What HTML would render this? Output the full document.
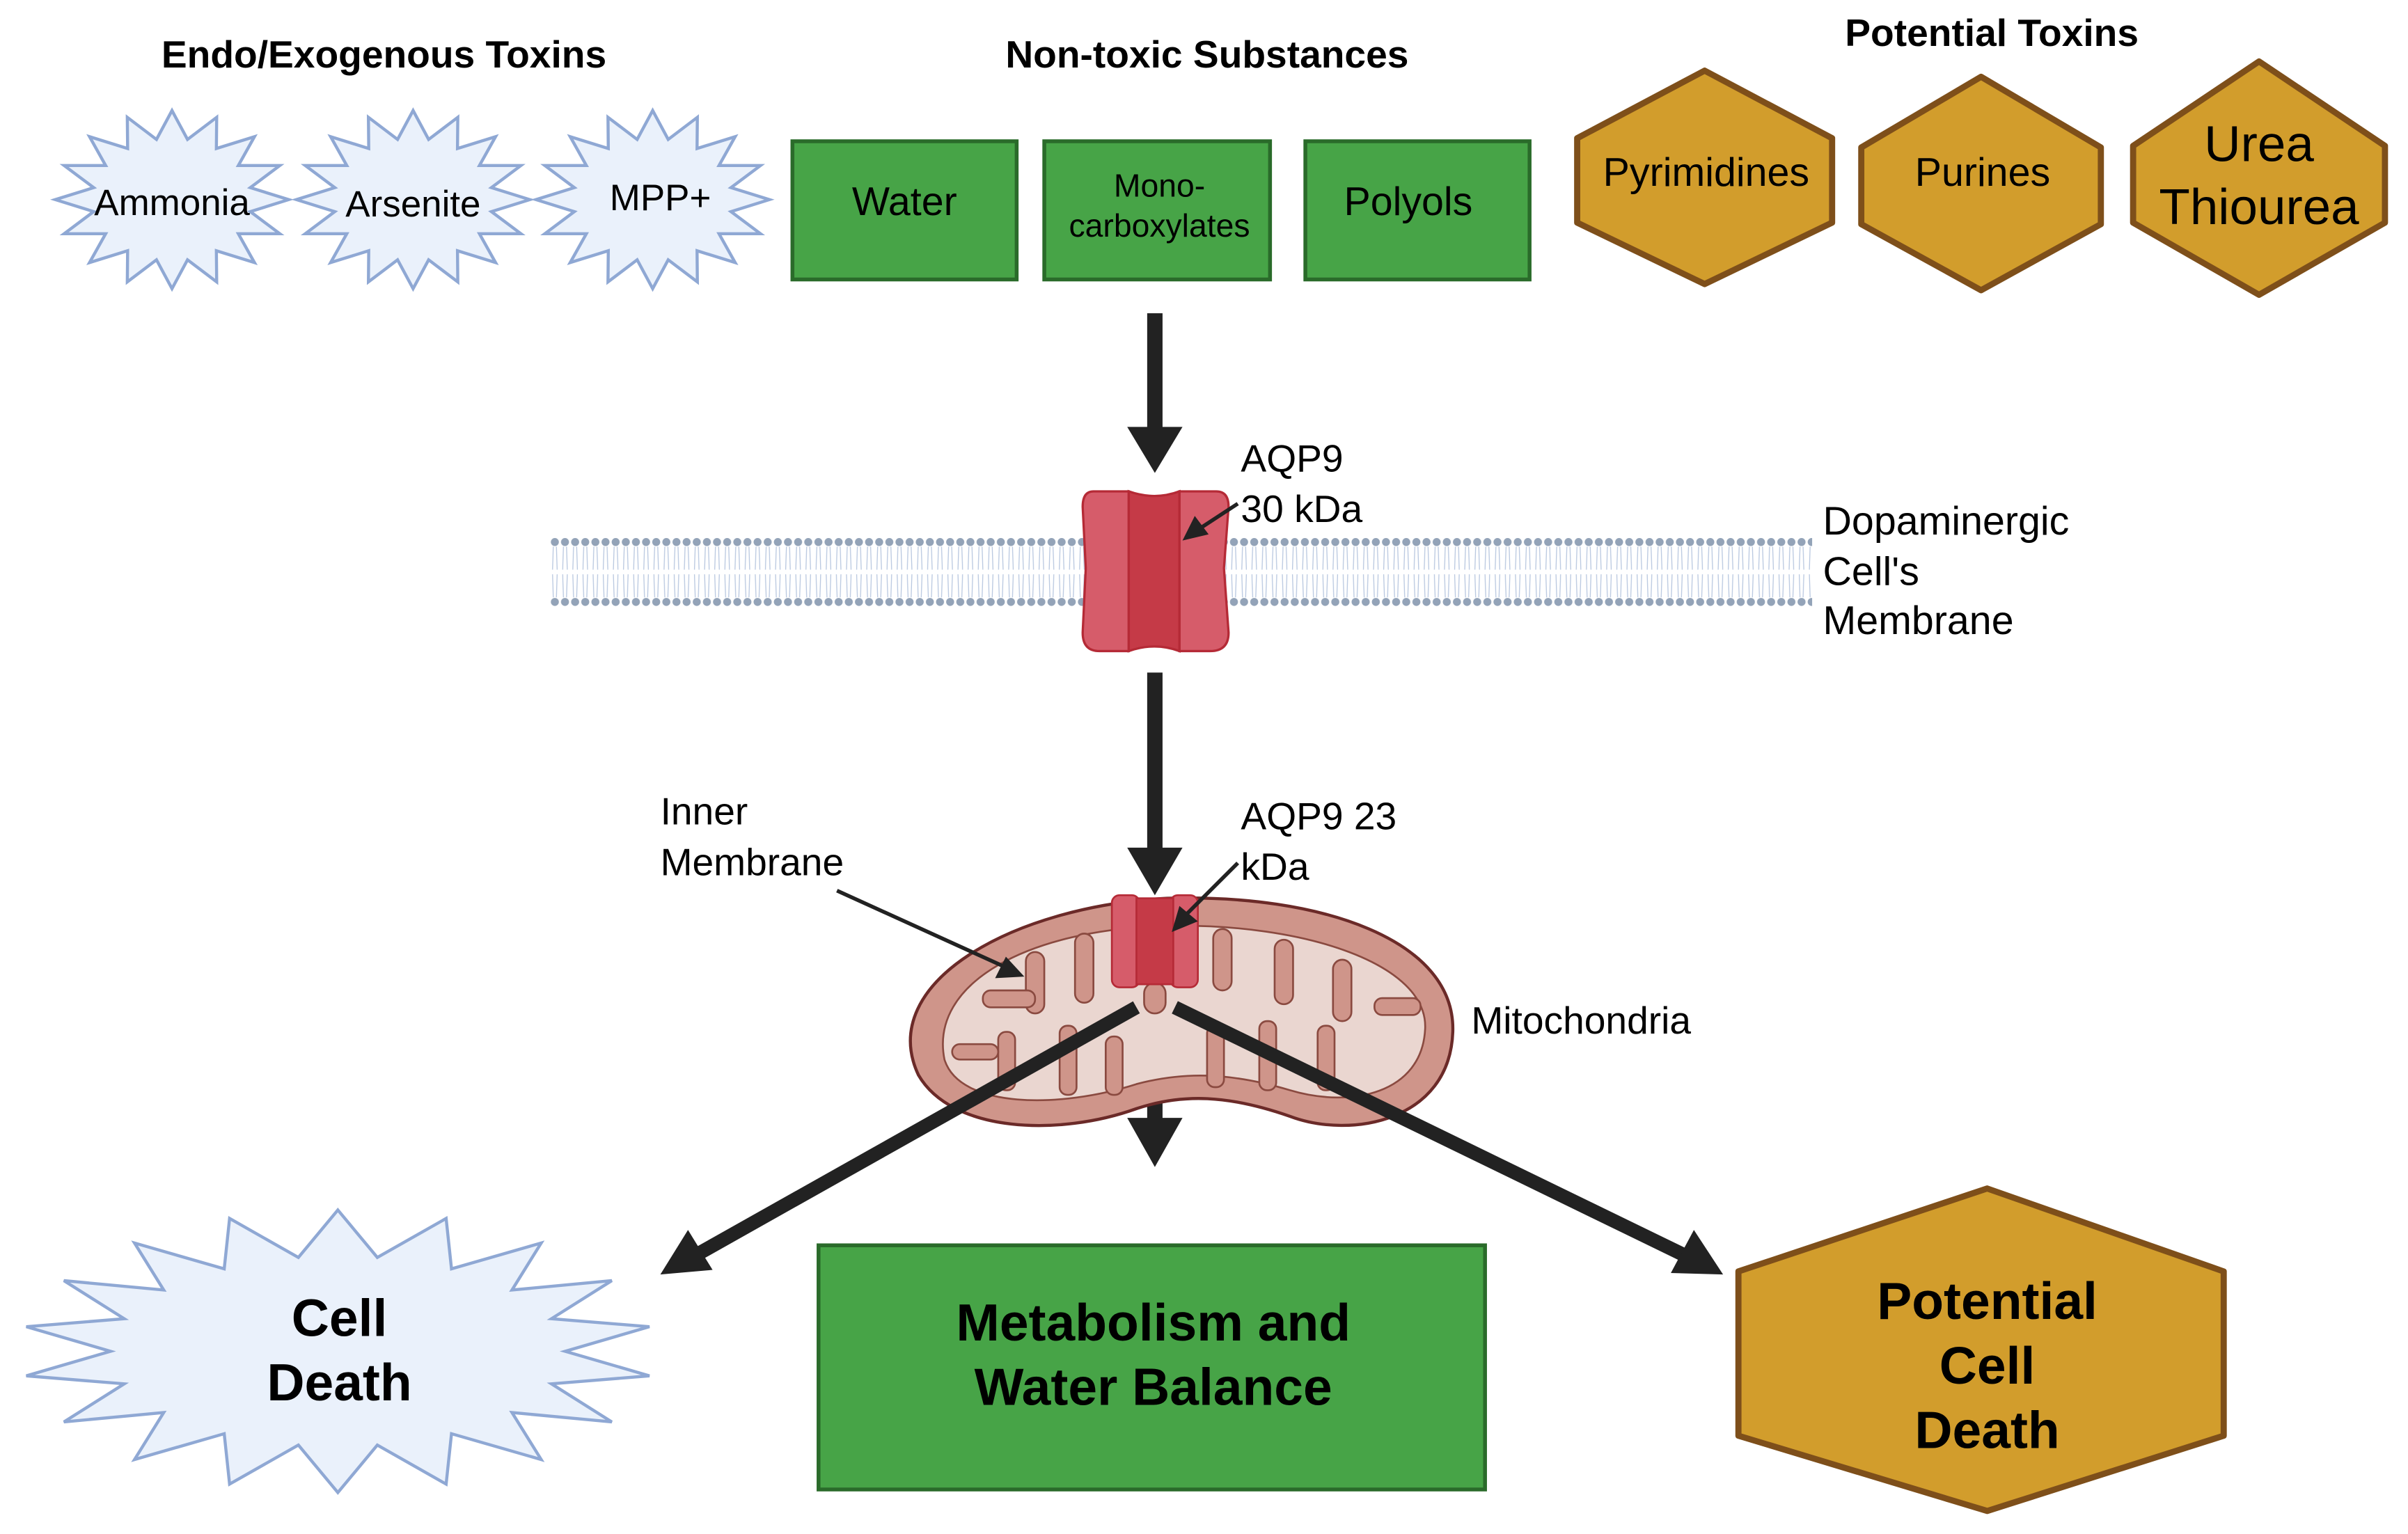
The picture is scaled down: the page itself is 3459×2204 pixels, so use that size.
<!DOCTYPE html>
<html><head><meta charset="utf-8"><style>
html,body{margin:0;padding:0;background:#fff;}
svg{display:block;}
text{font-family:"Liberation Sans",sans-serif;}
</style></head><body>
<svg width="3459" height="2204" viewBox="0 0 1568 999" preserveAspectRatio="none" xmlns="http://www.w3.org/2000/svg">
<defs>
<pattern id="lip" x="358" y="0" width="6.6" height="999" patternUnits="userSpaceOnUse">
<circle cx="3.3" cy="353" r="2.6" fill="#93a3b8"/>
<circle cx="3.3" cy="392" r="2.6" fill="#93a3b8"/>
<path d="M2.3,356 L1.8,371 M4.3,356 L4.8,371 M2.3,389 L1.8,374 M4.3,389 L4.8,374" stroke="#b9c8e0" stroke-width="0.6"/>
</pattern>
</defs>
<rect width="1568" height="999" fill="#fff"/>

<text x="250" y="44" font-size="25" font-weight="bold" text-anchor="middle">Endo/Exogenous Toxins</text>
<text x="786" y="44" font-size="25" font-weight="bold" text-anchor="middle">Non-toxic Substances</text>
<text x="1297" y="30" font-size="25" font-weight="bold" text-anchor="middle">Potential Toxins</text>

<g id="stars" fill="#eaf1fb" stroke="#8fa8d4" stroke-width="2"></g>
<text x="112" y="140" font-size="24" text-anchor="middle">Ammonia</text>
<text x="269" y="141" font-size="24" text-anchor="middle">Arsenite</text>
<text x="430" y="137" font-size="24" text-anchor="middle">MPP+</text>

<g fill="#47a447" stroke="#2a6b2a" stroke-width="2.5">
<rect x="516" y="92" width="146" height="90"/>
<rect x="680" y="92" width="147" height="90"/>
<rect x="850" y="92" width="146" height="90"/>
<rect x="533" y="811" width="434" height="159"/>
</g>
<text x="589" y="140" font-size="26" text-anchor="middle">Water</text>
<text x="755" y="128" font-size="21" text-anchor="middle">Mono-</text>
<text x="755" y="154" font-size="21" text-anchor="middle">carboxylates</text>
<text x="917" y="140" font-size="26" text-anchor="middle">Polyols</text>
<text x="751" y="873" font-size="34" font-weight="bold" text-anchor="middle">Metabolism and</text>
<text x="751" y="915" font-size="34" font-weight="bold" text-anchor="middle">Water Balance</text>

<g fill="#d29d2c" stroke="#7e4f1a" stroke-width="4" stroke-linejoin="round">
<path d="M1110,46 L1193,90 L1193,145 L1110,185 L1027,145 L1027,90 Z"/>
<path d="M1290,50 L1368,96 L1368,146 L1290,189 L1212,146 L1212,96 Z"/>
<path d="M1471,40 L1553,95 L1553,145 L1471,192 L1389,145 L1389,95 Z"/>
<path d="M1294,774 L1448,828 L1448,935 L1294,984 L1132,935 L1132,828 Z"/>
</g>
<text x="1111" y="121" font-size="26" text-anchor="middle">Pyrimidines</text>
<text x="1291" y="121" font-size="26" text-anchor="middle">Purines</text>
<text x="1471" y="105" font-size="33" text-anchor="middle">Urea</text>
<text x="1471" y="146" font-size="33" text-anchor="middle">Thiourea</text>
<text x="1294" y="859" font-size="34" font-weight="bold" text-anchor="middle">Potential</text>
<text x="1294" y="901" font-size="34" font-weight="bold" text-anchor="middle">Cell</text>
<text x="1294" y="943" font-size="34" font-weight="bold" text-anchor="middle">Death</text>

<g id="bigstar" fill="#eaf1fb" stroke="#8fa8d4" stroke-width="2"></g>
<text x="221" y="870" font-size="34" font-weight="bold" text-anchor="middle">Cell</text>
<text x="221" y="912" font-size="34" font-weight="bold" text-anchor="middle">Death</text>

<rect x="358" y="348" width="822" height="48" fill="url(#lip)"/>
<text x="1187" y="348" font-size="26">Dopaminergic</text>
<text x="1187" y="381" font-size="26">Cell's</text>
<text x="1187" y="413" font-size="26">Membrane</text>

<g fill="#222" stroke="none">
<rect x="747" y="204" width="10" height="76"/>
<path d="M734,278 L770,278 L752,308 Z"/>
<rect x="747" y="438" width="10" height="118"/>
<path d="M734,552 L770,552 L752,583 Z"/>
<rect x="747" y="660" width="10" height="72"/>
<path d="M734,728 L770,728 L752,760 Z"/>
</g>

<g stroke="#b52a36" stroke-width="1.5">
<path d="M712,320 Q705,320 705,330 L707,370 L705,412 Q705,424 716,424 L735,424 L735,320 Z" fill="#d65c6a"/>
<path d="M792,320 Q800,320 800,330 L797,370 L800,412 Q800,424 788,424 L768,424 L768,320 Z" fill="#d65c6a"/>
<path d="M735,320 Q752,326 768,320 L768,424 Q752,418 735,424 Z" fill="#c53a47"/>
</g>
<text x="808" y="307" font-size="25">AQP9</text>
<text x="808" y="340" font-size="25">30 kDa</text>
<line x1="806" y1="328" x2="780" y2="345" stroke="#222" stroke-width="2.5"/>
<path d="M770,352 L778,336 L787,348 Z" fill="#222"/>

<path d="M598,700 C570,640 660,590 760,585 C860,582 948,612 946,672 C944,730 880,742 840,727 C800,713 770,712 740,722 C690,740 620,738 598,700 Z" fill="#cf958a" stroke="#6b2a28" stroke-width="2"/>
<path d="M615,690 C605,640 670,605 760,603 C850,601 930,628 928,670 C926,712 880,722 840,710 C800,698 770,698 740,706 C690,722 625,722 615,690 Z" fill="#ead6d0" stroke="#8a4a40" stroke-width="1.2"/>
<g fill="#cf958a" stroke="#8a4a40" stroke-width="1.2">
<rect x="668" y="620" width="12" height="40" rx="6"/>
<rect x="700" y="608" width="12" height="45" rx="6"/>
<rect x="640" y="645" width="34" height="11" rx="5"/>
<rect x="790" y="605" width="12" height="40" rx="6"/>
<rect x="830" y="612" width="12" height="42" rx="6"/>
<rect x="868" y="625" width="12" height="40" rx="6"/>
<rect x="895" y="650" width="30" height="11" rx="5"/>
<rect x="650" y="672" width="11" height="38" rx="5"/>
<rect x="690" y="668" width="11" height="45" rx="5"/>
<rect x="720" y="675" width="11" height="38" rx="5"/>
<rect x="786" y="668" width="11" height="40" rx="5"/>
<rect x="820" y="665" width="11" height="45" rx="5"/>
<rect x="858" y="668" width="11" height="42" rx="5"/>
<rect x="620" y="680" width="30" height="10" rx="5"/>
<rect x="745" y="640" width="14" height="20" rx="7"/>
</g>
<g stroke="#b52a36" stroke-width="1.2">
<rect x="724" y="583" width="18" height="60" rx="5" fill="#d65c6a"/>
<rect x="762" y="583" width="18" height="60" rx="5" fill="#d65c6a"/>
<rect x="740" y="585" width="24" height="56" fill="#c53a47"/>
</g>
<text x="808" y="540" font-size="25">AQP9 23</text>
<text x="808" y="573" font-size="25">kDa</text>
<line x1="806" y1="562" x2="773" y2="595" stroke="#222" stroke-width="2.5"/>
<path d="M763,607 L768,590 L780,600 Z" fill="#222"/>
<text x="430" y="537" font-size="25">Inner</text>
<text x="430" y="570" font-size="25">Membrane</text>
<line x1="545" y1="580" x2="655" y2="630" stroke="#222" stroke-width="2.5"/>
<path d="M667,636 L648,637 L655,623 Z" fill="#222"/>
<text x="958" y="673" font-size="25">Mitochondria</text>

<line x1="740" y1="656" x2="452" y2="818" stroke="#222" stroke-width="9"/>
<path d="M430,830 L448,801 L464,827 Z" fill="#222"/>
<line x1="765" y1="656" x2="1098" y2="818" stroke="#222" stroke-width="9"/>
<path d="M1122,830 L1088,829 L1103,801 Z" fill="#222"/>

<script>
function star(cx,cy,ro,ri,ryo,ryi,n){var p=[];for(var i=0;i<2*n;i++){var a=-Math.PI/2+i*Math.PI/n;var o=i%2==0;p.push((cx+Math.cos(a)*(o?ro:ri)).toFixed(1)+','+(cy+Math.sin(a)*(o?ryo:ryi)).toFixed(1));}return p.join(' ');}
var ns="http://www.w3.org/2000/svg";
var g=document.getElementById('stars');
[[112,130],[269,130],[425,130]].forEach(function(c){var e=document.createElementNS(ns,'polygon');e.setAttribute('points',star(c[0],c[1],76,52,58,40,16));g.appendChild(e);});
var b=document.createElementNS(ns,'polygon');b.setAttribute('points',star(220,880,206,148,92,62,18));document.getElementById('bigstar').appendChild(b);
</script>
</svg>
</body></html>
